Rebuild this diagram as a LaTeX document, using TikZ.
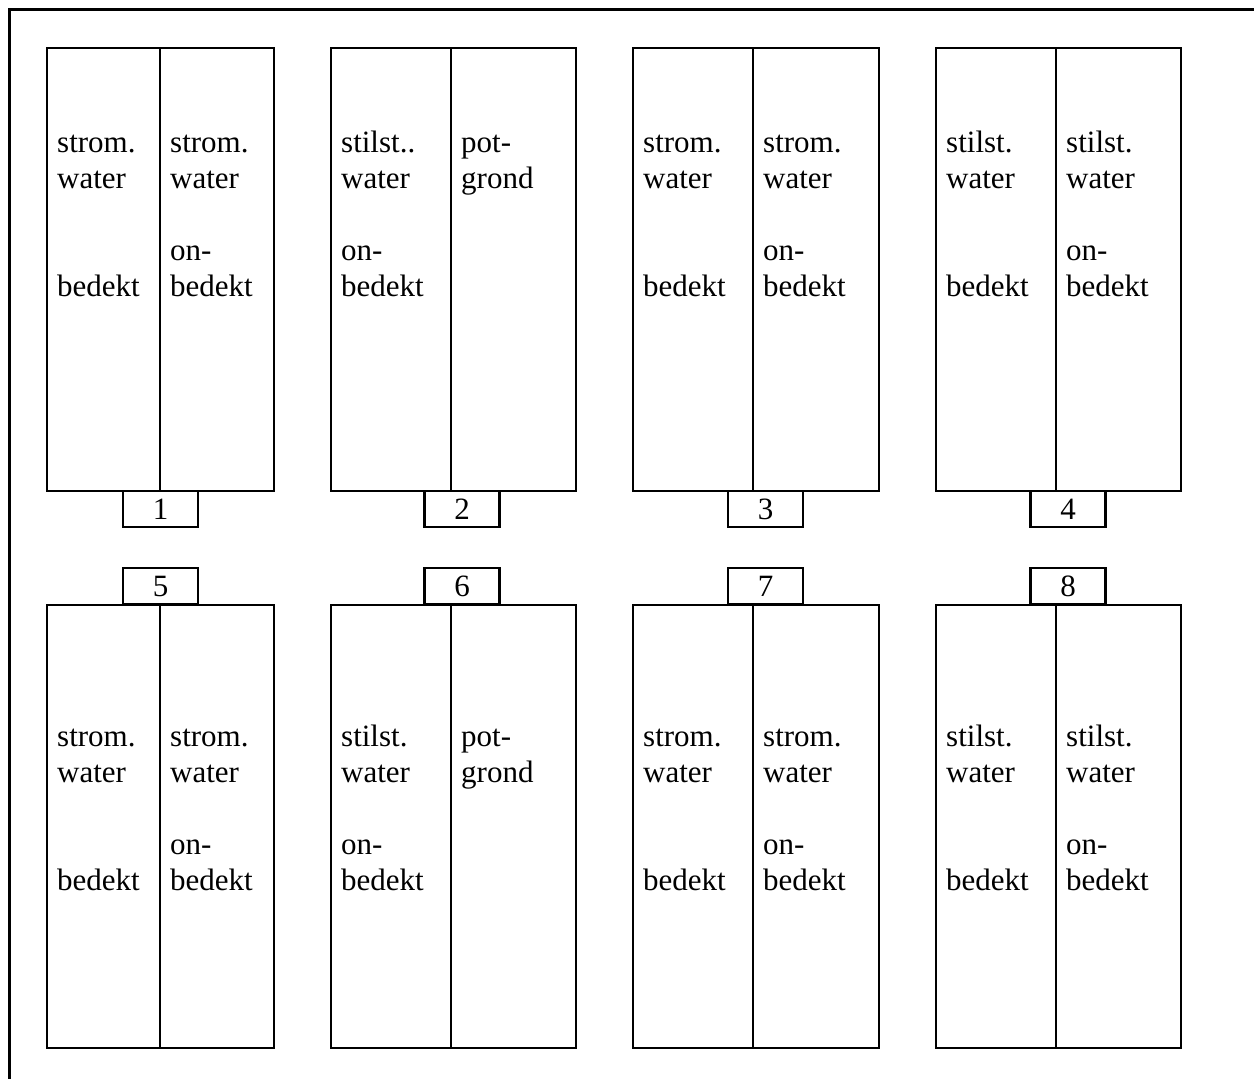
\documentclass[tikz,border=0pt]{standalone}
\usepackage{fontspec}
\setmainfont{Liberation Serif}
\newcommand\coltext[1]{\begin{tabular}[t]{@{}l@{}}#1\end{tabular}}
\begin{document}
\begin{tikzpicture}[x=1pt,y=-1pt,
  frame/.style={line width=3pt},
  box/.style={line width=2.2pt},
  lbl/.style={draw, line width=2.2pt, minimum width=75pt, minimum height=36pt, inner sep=0pt,
    font=\fontsize{31}{36}\selectfont},
  txt/.style={anchor=base west, inner sep=0pt, font=\fontsize{31}{36}\selectfont}]
\useasboundingbox (0,0) rectangle (1254,1079);
% outer frame (cut off at right and bottom)
\draw[frame] (9.5,1079) -- (9.5,9.5) -- (1254,9.5);
% boxes
\foreach \l/\m/\r in {47/160/274, 331/451/576, 633/753/879, 936/1056/1181}{
  \draw[box] (\l,48) rectangle (\r,491);
  \draw[box] (\m,48) -- (\m,491);
  \draw[box] (\l,605) rectangle (\r,1048);
  \draw[box] (\m,605) -- (\m,1048);
}
% number labels
\node[lbl] (n1) at (160.5,509) {1};
\node[lbl] (n2) at (462,509) {2};
\node[lbl] (n3) at (765.5,509) {3};
\node[lbl] (n4) at (1068,509) {4};
\node[lbl] (n5) at (160.5,586) {5};
\node[lbl] (n6) at (462,586) {6};
\node[lbl] (n7) at (765.5,586) {7};
\node[lbl] (n8) at (1068,586) {8};
% top row texts
\node[txt] (t1l) at (57,152)   {\coltext{strom.\\water\\[72pt]bedekt}};
\node[txt] (t1r) at (170,152)  {\coltext{strom.\\water\\[36pt]on-\\bedekt}};
\node[txt] (t2l) at (341,152)  {\coltext{stilst..\\water\\[36pt]on-\\bedekt}};
\node[txt] (t2r) at (461,152)  {\coltext{pot-\\grond}};
\node[txt] (t3l) at (643,152)  {\coltext{strom.\\water\\[72pt]bedekt}};
\node[txt] (t3r) at (763,152)  {\coltext{strom.\\water\\[36pt]on-\\bedekt}};
\node[txt] (t4l) at (946,152)  {\coltext{stilst.\\water\\[72pt]bedekt}};
\node[txt] (t4r) at (1066,152) {\coltext{stilst.\\water\\[36pt]on-\\bedekt}};
% bottom row texts
\node[txt] (t5l) at (57,746)   {\coltext{strom.\\water\\[72pt]bedekt}};
\node[txt] (t5r) at (170,746)  {\coltext{strom.\\water\\[36pt]on-\\bedekt}};
\node[txt] (t6l) at (341,746)  {\coltext{stilst.\\water\\[36pt]on-\\bedekt}};
\node[txt] (t6r) at (461,746)  {\coltext{pot-\\grond}};
\node[txt] (t7l) at (643,746)  {\coltext{strom.\\water\\[72pt]bedekt}};
\node[txt] (t7r) at (763,746)  {\coltext{strom.\\water\\[36pt]on-\\bedekt}};
\node[txt] (t8l) at (946,746)  {\coltext{stilst.\\water\\[72pt]bedekt}};
\node[txt] (t8r) at (1066,746) {\coltext{stilst.\\water\\[36pt]on-\\bedekt}};
\end{tikzpicture}
\end{document}
